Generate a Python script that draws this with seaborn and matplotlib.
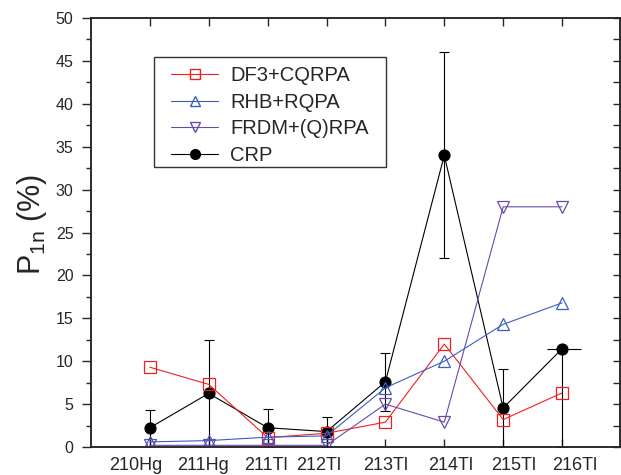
import matplotlib
matplotlib.use('Agg')
import matplotlib.pyplot as plt
import seaborn as sns
import numpy as np
import pandas as pd
from matplotlib.ticker import MultipleLocator
from matplotlib.lines import Line2D
from matplotlib.patches import Rectangle

# ---- data ----
nuclei = ['210Hg', '211Hg', '211Tl', '212Tl', '213Tl', '214Tl', '215Tl', '216Tl']
df3_cqrpa = [9.3, 7.3, 1.1, 1.6, 2.9, 12.0, 3.2, 6.3]
rhb_rqpa = [0.6, 0.75, 1.15, 1.3, 6.9, 10.0, 14.3, 16.8]
frdm_qrpa = [0.2, 0.2, 0.2, 0.2, 5.0, 2.9, 28.0, 28.0]
crp = [2.25, 6.25, 2.25, 1.8, 7.6, 34.0, 4.55, 11.45]
crp_upper = [4.3, 12.5, 4.4, 3.5, 11.0, 46.0, 9.1, 11.45]
crp_lower = [0.0, 0.0, 0.0, 0.0, 4.2, 22.0, 0.0, 0.0]
crp_216_xerr_left = [0.25]
crp_216_xerr_right = [0.32]
series_labels = ['DF3+CQRPA', 'RHB+RQPA', 'FRDM+(Q)RPA', 'CRP']

# ---- style ----
sns.set_style('ticks')
plt.rcParams['font.family'] = ['Liberation Sans', 'DejaVu Sans']
plt.rcParams['mathtext.fontset'] = 'custom'
plt.rcParams['mathtext.rm'] = 'Liberation Sans'
plt.rcParams['mathtext.it'] = 'Liberation Sans'
plt.rcParams['axes.linewidth'] = 1.1

pos = np.arange(1, len(nuclei) + 1)
label_offsets = [-0.24, -0.1, -0.03, -0.14, 0.0, 0.1, 0.17, 0.22]

fig = plt.figure(figsize=(6.21, 4.75), dpi=100)
ax = fig.add_axes([0.1465, 0.0589, 0.8515, 0.9031])

red = '#f02020'
blue = '#3a5fc0'
purple = '#6a4aa8'

# CRP error bars (drawn underneath)
crp_arr = np.array(crp)
yerr = np.vstack([crp_arr - np.array(crp_lower), np.array(crp_upper) - crp_arr])
ax.errorbar(pos, crp_arr, yerr=yerr, fmt='none', ecolor='black', elinewidth=0.8,
            capsize=3.6, capthick=0.8, zorder=1)
ax.errorbar(pos[-1:], crp_arr[-1:], xerr=[crp_216_xerr_left, crp_216_xerr_right],
            fmt='none', ecolor='black', elinewidth=0.8, capsize=0, zorder=1)

sns.lineplot(x=pos, y=crp, ax=ax, color='black', lw=0.8, marker='o', ms=8,
             mfc='black', mec='black', zorder=2)
sns.lineplot(x=pos, y=df3_cqrpa, ax=ax, color=red, lw=0.8, marker='s', ms=8,
             mfc='none', mec=red, mew=0.9, zorder=3)
sns.lineplot(x=pos, y=rhb_rqpa, ax=ax, color=blue, lw=0.8, marker='^', ms=9,
             mfc='none', mec=blue, mew=0.9, zorder=3)
sns.lineplot(x=pos, y=frdm_qrpa, ax=ax, color=purple, lw=0.8, marker='v', ms=9,
             mfc='none', mec=purple, mew=0.9, zorder=3)

ax.set_xlim(0, 8.98)
ax.set_ylim(0, 50)

# x ticks at data positions, labels slightly offset as in the reference
ax.xaxis.remove_overlapping_locs = False
ax.set_xticks(pos)
ax.set_xticklabels([''] * len(pos))
ax.set_xticks(pos + np.array(label_offsets), minor=True)
ax.set_xticklabels(nuclei, minor=True, fontsize=13)
ax.tick_params(axis='x', which='major', direction='in', length=6, width=1.0,
               top=True, bottom=True)
ax.tick_params(axis='x', which='minor', length=0, pad=7, top=False)

ax.yaxis.set_major_locator(MultipleLocator(5))
ax.yaxis.set_minor_locator(MultipleLocator(2.5))
ax.tick_params(axis='y', which='major', direction='out', length=6.5, width=1.0,
               labelsize=11.5, pad=6, right=False)
ax.tick_params(axis='y', which='minor', direction='out', length=3.6, width=1.0,
               right=False)

# right-side inward ticks
twin = ax.twinx()
twin.set_ylim(0, 50)
twin.yaxis.set_major_locator(MultipleLocator(5))
twin.yaxis.set_minor_locator(MultipleLocator(2.5))
twin.tick_params(axis='y', which='both', direction='in', length=5, width=1.0,
                 labelright=False)
for s in twin.spines.values():
    s.set_linewidth(1.1)

ax.set_xlabel('')
ax.set_ylabel('P$_{1n}$ (%)', fontsize=22)
ax.yaxis.set_label_coords(-0.08, 0.518)

# legend: frame drawn as a rectangle, entries placed inside it
frame = Rectangle((154 / 621, 1 - 167 / 475), 232 / 621, 110 / 475,
                  transform=fig.transFigure, facecolor='white',
                  edgecolor='#333333', lw=1.0, zorder=9, clip_on=False)
ax.add_patch(frame)

handles = [
    Line2D([], [], color=red, lw=0.8, marker='s', ms=7, mfc='none', mec=red),
    Line2D([], [], color=blue, lw=0.8, marker='^', ms=7, mfc='none', mec=blue),
    Line2D([], [], color=purple, lw=0.8, marker='v', ms=7, mfc='none', mec=purple),
    Line2D([], [], color='black', lw=0.8, marker='o', ms=7, mfc='black', mec='black'),
]
leg = ax.legend(handles, series_labels, loc='upper left',
                bbox_to_anchor=(171 / 621, 1 - 66 / 475),
                bbox_transform=fig.transFigure, borderaxespad=0, borderpad=0,
                fontsize=14.5, frameon=False, handlelength=2.35,
                handletextpad=0.6, labelspacing=0.38)
leg.set_zorder(10)

fig.savefig('out.png', dpi=100)
